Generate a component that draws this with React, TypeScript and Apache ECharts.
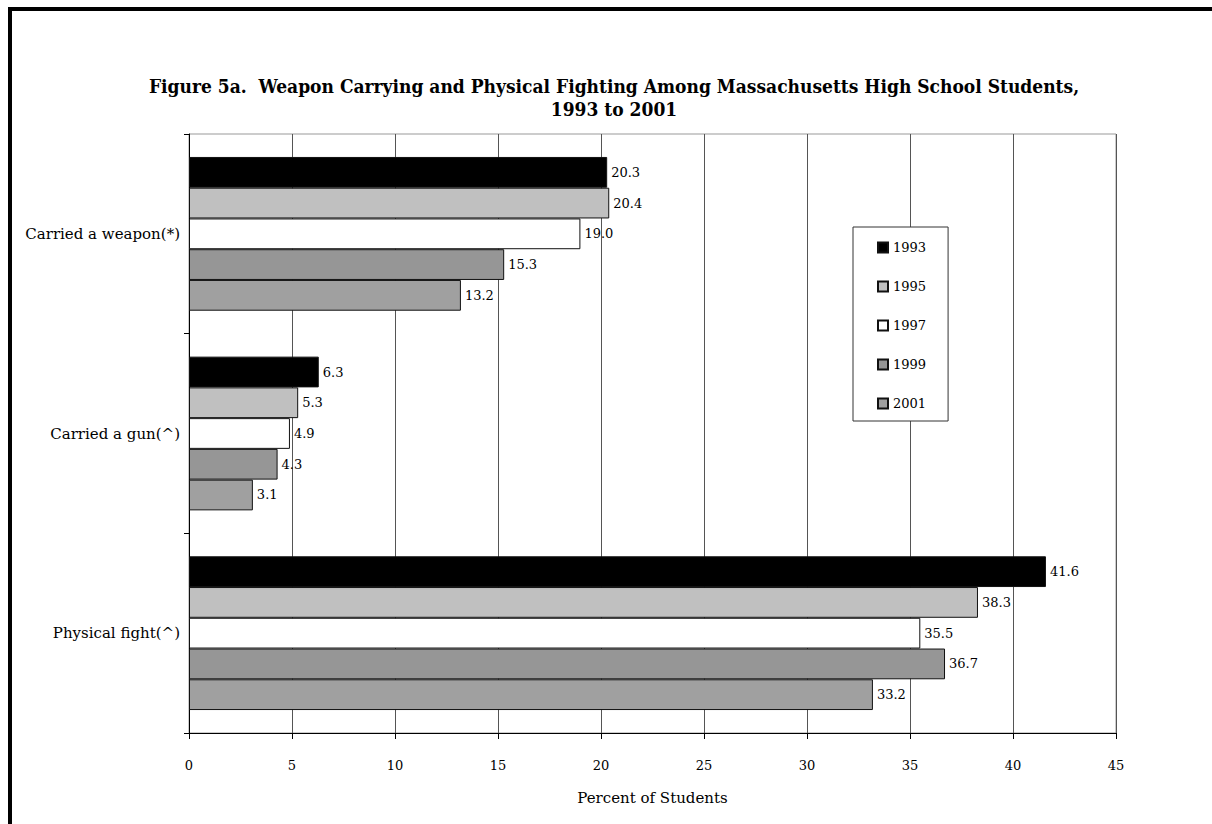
import React, { useEffect, useRef } from "react";
import * as echarts from "echarts";

const categories = ["Carried a weapon(*)", "Carried a gun(^)", "Physical fight(^)"];
const years = ["1993", "1995", "1997", "1999", "2001"];
const values1993 = [20.3, 6.3, 41.6];
const values1995 = [20.4, 5.3, 38.3];
const values1997 = [19.0, 4.9, 35.5];
const values1999 = [15.3, 4.3, 36.7];
const values2001 = [13.2, 3.1, 33.2];
const seriesValues = [values1993, values1995, values1997, values1999, values2001];
const colors = ["#000000", "#C0C0C0", "#FFFFFF", "#969696", "#A0A0A0"];
const xTicks = { min: 0, max: 45, interval: 5 };

const FONT = "'DejaVu Serif', 'Liberation Serif', serif";
const TITLE_FONT = "'DejaVu Serif Condensed', 'DejaVu Serif', serif";

export default function App() {
  const ref = useRef<HTMLDivElement>(null);
  useEffect(() => {
    if (!ref.current) return;
    const chart = echarts.init(ref.current, null, { renderer: "svg" });
    chart.setOption({
      animation: false,
      backgroundColor: "#ffffff",
      textStyle: { fontFamily: FONT, color: "#000" },
      title: {
        text: "Figure 5a.  Weapon Carrying and Physical Fighting Among Massachusetts High School Students,\n1993 to 2001",
        left: 609,
        textAlign: "center",
        top: 69,
        textStyle: { fontFamily: TITLE_FONT, fontWeight: "bold", fontSize: 19, lineHeight: 23, color: "#000" },
      },
      graphic: [
        { type: "rect", shape: { x: 8, y: 7, width: 1204, height: 4 }, style: { fill: "#000" } },
        { type: "rect", shape: { x: 8, y: 7, width: 4, height: 817 }, style: { fill: "#000" } },
      ],
      legend: {
        orient: "vertical",
        left: 853,
        top: 227,
        padding: [14, 22, 11, 24],
        itemGap: 26,
        itemWidth: 10,
        itemHeight: 10,
        borderColor: "#333",
        borderWidth: 1,
        backgroundColor: "#fff",
        icon: "rect",
        textStyle: { fontFamily: FONT, fontSize: 13, color: "#000" },
        data: years,
      },
      grid: {
        left: 189,
        right: 96,
        top: 134,
        bottom: 91,
        show: true,
        borderColor: "#999",
        borderWidth: 1,
      },
      xAxis: {
        type: "value",
        min: xTicks.min,
        max: xTicks.max,
        interval: xTicks.interval,
        name: "Percent of Students",
        nameLocation: "middle",
        nameGap: 57,
        nameTextStyle: { fontFamily: FONT, fontSize: 15, color: "#000" },
        axisLine: { show: true, lineStyle: { color: "#000", width: 1 } },
        axisTick: { show: true, length: 6, lineStyle: { color: "#000" } },
        axisLabel: { fontFamily: FONT, fontSize: 13, color: "#000", margin: 26 },
        splitLine: { show: true, lineStyle: { color: "#555", width: 1 } },
      },
      yAxis: {
        type: "category",
        data: categories,
        inverse: true,
        axisLine: { show: true, lineStyle: { color: "#000", width: 1 } },
        axisTick: { show: true, length: 5, lineStyle: { color: "#000" } },
        axisLabel: { fontFamily: FONT, fontSize: 15, color: "#000", margin: 9 },
        splitLine: { show: false },
      },
      series: years.map((y, i) => ({
        name: y,
        type: "bar",
        data: seriesValues[i],
        barGap: "0%",
        barCategoryGap: "23%",
        itemStyle: { color: colors[i], borderColor: "#111", borderWidth: 1 },
        label: {
          show: true,
          position: "right",
          distance: 4,
          fontFamily: FONT,
          fontSize: 13,
          color: "#000",
          formatter: (p: any) => Number(p.value).toFixed(1),
        },
      })),
    });
    return () => chart.dispose();
  }, []);
  return <div ref={ref} style={{ position: "fixed", left: 0, top: 0, width: 1212, height: 824 }} />;
}
